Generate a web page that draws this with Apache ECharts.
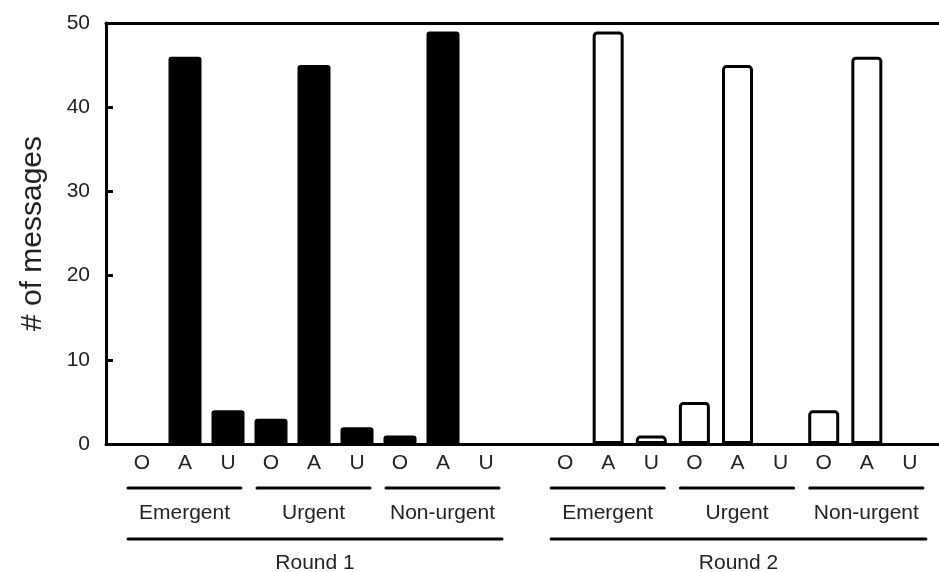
<!DOCTYPE html>
<html><head><meta charset="utf-8">
<script src="https://cdn.jsdelivr.net/npm/echarts@6/dist/echarts.min.js"></script>
<style>html,body{margin:0;padding:0;background:#fff}#c{width:939px;height:572px}</style>
</head><body><div id="c"></div>
<script>
// ---- data ----
const subCategories = ['O','A','U','O','A','U','O','A','U'];
const groups = ['Emergent','Urgent','Non-urgent'];
const rounds = ['Round 1','Round 2'];
const round1Values = [0,46,4,3,45,2,1,49,0];
const round2Values = [0,49,1,5,45,0,4,46,0];
const yMin = 0, yMax = 50, yInterval = 10;
const yAxisName = '# of messages';

// ---- chart ----
const FONT = '"Liberation Sans", Arial, sans-serif';
const chart = echarts.init(document.getElementById('c'), null, {renderer:'canvas'});
const TOP = 23, BOTTOM = 128;
const toData = v => v === 0 ? '-' : v;
const frameAxisX = pos => ({
  gridIndex:0, type:'value', min:0, max:1, position:pos,
  axisLine:{show:true, onZero:false, lineStyle:{color:'#000', width:3}},
  axisTick:{show:false}, axisLabel:{show:false}, splitLine:{show:false}
});
const catAxis = g => ({
  gridIndex:g, type:'category', data:subCategories,
  axisLine:{show:false}, axisTick:{show:false},
  axisLabel:{fontSize:21, color:'#222', margin:9, fontFamily:FONT}
});
const hiddenY = g => ({gridIndex:g, type:'value', min:yMin, max:yMax, show:false});

const option = {
  animation:false,
  grid:[
    {left:106, right:-4, top:TOP, bottom:BOTTOM},
    {left:120.5, width:387, top:TOP, bottom:BOTTOM},
    {left:543.5, width:388, top:TOP, bottom:BOTTOM}
  ],
  xAxis:[frameAxisX('bottom'), frameAxisX('top'), catAxis(1), catAxis(2)],
  yAxis:[
    {gridIndex:0, type:'value', min:yMin, max:yMax, interval:yInterval,
     axisLine:{show:true, lineStyle:{color:'#000', width:3}},
     axisTick:{show:true, inside:true, length:7, lineStyle:{color:'#000', width:3}},
     axisLabel:{fontSize:21, color:'#222', margin:16, fontFamily:FONT},
     splitLine:{show:false},
     name:yAxisName, nameLocation:'middle', nameGap:58,
     nameTextStyle:{fontSize:30, color:'#222', fontFamily:FONT}},
    hiddenY(1), hiddenY(2)
  ],
  series:[
    {type:'bar', xAxisIndex:2, yAxisIndex:1, data:round1Values.map(toData), barWidth:33,
     itemStyle:{color:'#000', borderRadius:[3,3,0,0]}},
    {type:'bar', xAxisIndex:3, yAxisIndex:2, data:round2Values.map(toData), barWidth:31,
     itemStyle:{color:'#fff', borderColor:'#000', borderWidth:3, borderRadius:[3,3,0,0]}}
  ]
};
chart.setOption(option);

// ---- hierarchical labels, positioned from the category axes ----
const groupLineY = 488, groupTextY = 513, roundLineY = 539, roundTextY = 563;
const elements = [];
const hline = (x1, x2, y) => ({type:'line', shape:{x1:x1, y1:y, x2:x2, y2:y},
  style:{stroke:'#000', lineWidth:3, lineCap:'round'}});
const txt = (s, x, y) => ({type:'text', x:x, y:y,
  style:{text:s, font:'21px ' + FONT, fill:'#222', align:'center', verticalAlign:'middle'}});
[2,3].forEach((axisIdx, r) => {
  const px = i => chart.convertToPixel({xAxisIndex:axisIdx}, i);
  groups.forEach((g, gi) => {
    const a = px(gi*3) - 14, b = px(gi*3 + 2) + 13;
    elements.push(hline(a, b, groupLineY));
    elements.push(txt(g, (a + b) / 2, groupTextY));
  });
  const a = px(0) - 14, b = px(subCategories.length - 1) + 16;
  elements.push(hline(a, b, roundLineY));
  elements.push(txt(rounds[r], (a + b) / 2, roundTextY));
});
chart.setOption({graphic:{elements:elements}});
</script>
</body></html>
